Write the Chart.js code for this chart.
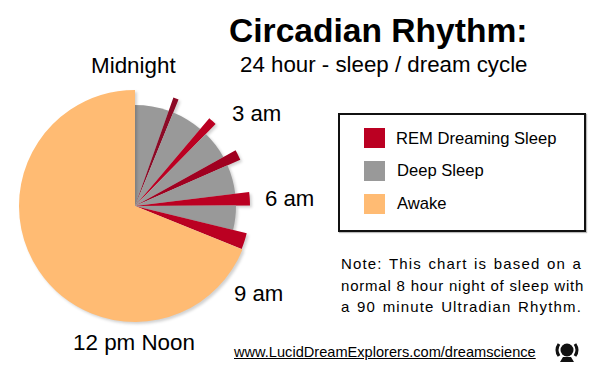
<!DOCTYPE html>
<html>
<head>
<meta charset="utf-8">
<title>Circadian Rhythm</title>
<script src="https://cdn.jsdelivr.net/npm/chart.js@4"></script>
<style>
  html, body { margin: 0; padding: 0; background: #fff; }
  body { width: 600px; height: 375px; position: relative; overflow: hidden; font-family: "Liberation Sans", Arial, sans-serif; color: #000; }
  .t { position: absolute; white-space: nowrap; line-height: 1; }
  .n { position: absolute; left: 341px; width: 241px; font-size: 15px; line-height: 20px; letter-spacing: 0.8px; text-align: justify; text-align-last: justify; white-space: nowrap; }
  #pie { position: absolute; left: 9px; top: 80px; }
  #box { position: absolute; left: 338px; top: 113px; width: 244px; height: 115px; border: 2px solid #111; box-shadow: 1px 1px 1px #bbb; }
  .swatch { position: absolute; left: 364px; width: 21px; height: 20px; }
</style>
</head>
<body>
<div class="t" style="left:229px;top:14px;font-size:33.6px;font-weight:bold">Circadian Rhythm:</div>
<div class="t" style="left:240px;top:54px;font-size:22.3px">24 hour - sleep / dream cycle</div>
<div class="t" style="left:91px;top:55px;font-size:22.4px">Midnight</div>
<div class="t" style="left:232px;top:103px;font-size:22.2px">3 am</div>
<div class="t" style="left:265px;top:188px;font-size:22.2px">6 am</div>
<div class="t" style="left:234px;top:283px;font-size:22.2px">9 am</div>
<div class="t" style="left:73px;top:332px;font-size:22.4px">12 pm Noon</div>
<canvas id="pie" width="252" height="252"></canvas>
<div id="box"></div>
<div id="legend"></div>
<div class="n" style="top:254px;letter-spacing:1.15px">Note: This chart is based on a</div>
<div class="n" style="top:276px">normal 8 hour night of sleep with</div>
<div class="n" style="top:297px;letter-spacing:1.15px">a 90 minute Ultradian Rhythm.</div>
<div class="t" style="left:234px;top:345px;font-size:14.6px;text-decoration:underline">www.LucidDreamExplorers.com/dreamscience</div>
<svg style="position:absolute;left:553px;top:341px" width="28" height="22" viewBox="0 0 28 22">
  <circle cx="14" cy="9" r="6.5" fill="#111"/>
  <path d="M6 3 Q2 9 6 15 M22 3 Q26 9 22 15" stroke="#111" stroke-width="3" fill="none"/>
  <path d="M7 21 L10 16 L18 16 L21 21 Z" fill="#111"/>
</svg>
<script>
// minutes of each stage, clockwise from midnight
const stages = ['Deep Sleep', 'REM', 'Deep Sleep', 'REM', 'Deep Sleep', 'REM', 'Deep Sleep', 'REM', 'Deep Sleep', 'REM', 'Awake'];
const minutes = [78, 11, 72, 17, 66, 21, 67, 27, 56, 33, 992];
// how far each wedge reaches out
const reach = [101, 115, 101, 115, 101, 115, 101, 115, 101, 115, 116];
const sliceColors = ['#999999', '#8c0a26', '#999999', '#bb0022', '#999999', '#a00020', '#999999', '#bb0022', '#999999', '#bb0022', '#ffbb73'];

const legendLabels = ['REM Dreaming Sleep', 'Deep Sleep', 'Awake'];
const legendColors = ['#bb0022', '#999999', '#ffbb73'];
const legendSwatchTop = [128, 161, 194];
const legendTextTop = [131, 163, 196];
const legendTextLeft = [396, 397, 397];

const legendEl = document.getElementById('legend');
legendLabels.forEach((label, i) => {
    const sw = document.createElement('div');
    sw.className = 'swatch';
    sw.style.top = legendSwatchTop[i] + 'px';
    sw.style.background = legendColors[i];
    legendEl.appendChild(sw);
    const txt = document.createElement('div');
    txt.className = 't';
    txt.style.cssText = `left:${legendTextLeft[i]}px;top:${legendTextTop[i]}px;font-size:16.6px`;
    txt.textContent = label;
    legendEl.appendChild(txt);
});

// soft shadow under the wedges
const wedgeShadow = {
    id: 'wedgeShadow',
    beforeDatasetsDraw(chart) {
        const ctx = chart.ctx;
        ctx.save();
        ctx.shadowColor = 'rgba(0,0,0,0.18)';
        ctx.shadowBlur = 3;
        ctx.shadowOffsetX = 2;
        ctx.shadowOffsetY = 2;
    },
    afterDatasetsDraw(chart) {
        chart.ctx.restore();
    }
};

new Chart(document.getElementById('pie').getContext('2d'), {
    type: 'polarArea',
    data: {
        labels: stages,
        datasets: [{
            data: reach,
            backgroundColor: sliceColors,
            borderWidth: 0,
            clip: false,
            angle: minutes.map(m => m / 4)
        }]
    },
    options: {
        responsive: false,
        animation: false,
        layout: { padding: 10 },
        plugins: { legend: { display: false }, tooltip: { enabled: false } },
        scales: { r: { display: false, min: 0, max: 116 } }
    },
    plugins: [wedgeShadow]
});
</script>
</body>
</html>
